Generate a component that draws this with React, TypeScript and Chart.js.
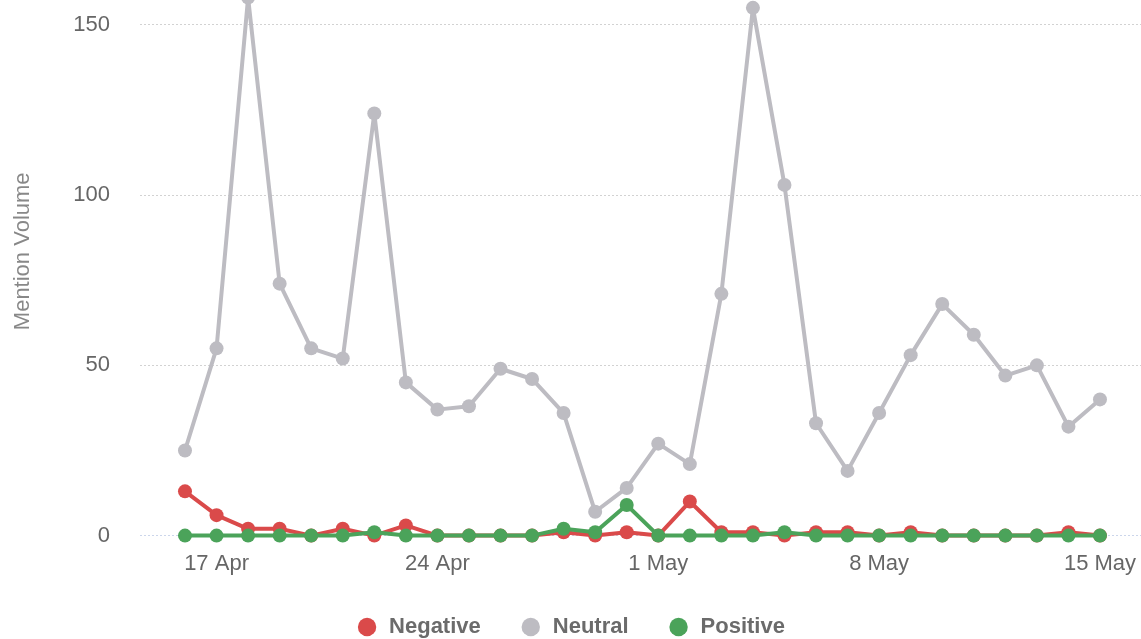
import React, { useEffect, useRef } from "react";
import { Chart, registerables } from "chart.js";

Chart.register(...registerables);

const dateLabels: string[] = [
  "16 Apr", "17 Apr", "18 Apr", "19 Apr", "20 Apr", "21 Apr", "22 Apr", "23 Apr",
  "24 Apr", "25 Apr", "26 Apr", "27 Apr", "28 Apr", "29 Apr", "30 Apr",
  "1 May", "2 May", "3 May", "4 May", "5 May", "6 May", "7 May", "8 May",
  "9 May", "10 May", "11 May", "12 May", "13 May", "14 May", "15 May",
];

const tickLabels: string[] = ["17 Apr", "24 Apr", "1 May", "8 May", "15 May"];

const negative: number[] = [13, 6, 2, 2, 0, 2, 0, 3, 0, 0, 0, 0, 1, 0, 1, 0, 10, 1, 1, 0, 1, 1, 0, 1, 0, 0, 0, 0, 1, 0];
const neutral: number[] = [25, 55, 158, 74, 55, 52, 124, 45, 37, 38, 49, 46, 36, 7, 14, 27, 21, 71, 155, 103, 33, 19, 36, 53, 68, 59, 47, 50, 32, 40];
const positive: number[] = [0, 0, 0, 0, 0, 0, 1, 0, 0, 0, 0, 0, 2, 1, 9, 0, 0, 0, 0, 1, 0, 0, 0, 0, 0, 0, 0, 0, 0, 0];

const RED = "#da4a4a";
const GRAY = "#bdbcc2";
const GREEN = "#4ba35a";

export default function App() {
  const ref = useRef<HTMLCanvasElement>(null);

  useEffect(() => {
    document.body.style.margin = "0";
    const canvas = ref.current;
    if (!canvas) return;
    Chart.defaults.font.family = "'Liberation Sans', Arial, Helvetica, sans-serif";
    const toPts = (arr: number[]) => arr.map((v, i) => ({ x: i, y: v }));
    const common = {
      borderWidth: 4,
      borderJoinStyle: "round" as const,
      borderCapStyle: "round" as const,
      pointRadius: 7,
      pointHoverRadius: 7,
      pointBorderWidth: 0,
      tension: 0,
      fill: false,
      clip: false as any,
    };
    const chart = new Chart(canvas, {
      type: "line",
      data: {
        datasets: [
          { label: "Negative", data: toPts(negative), borderColor: RED, backgroundColor: RED, order: 1, ...common },
          { label: "Neutral", data: toPts(neutral), borderColor: GRAY, backgroundColor: GRAY, order: 2, ...common },
          { label: "Positive", data: toPts(positive), borderColor: GREEN, backgroundColor: GREEN, order: 0, ...common },
        ],
      },
      options: {
        animation: false,
        responsive: false,
        devicePixelRatio: 1,
        layout: { padding: 0, autoPadding: false },
        scales: {
          x: {
            type: "linear",
            min: -1.426,
            max: 30.3,
            grid: { display: false, drawTicks: false },
            border: { display: false },
            afterBuildTicks: (s: any) => {
              s.ticks = tickLabels.map((l) => ({ value: dateLabels.indexOf(l) }));
            },
            ticks: {
              autoSkip: false,
              maxRotation: 0,
              padding: 15,
              color: "#666666",
              font: { size: 22 },
              callback: (v: any) => dateLabels[v as number],
            },
            afterFit: (s: any) => {
              s.height = 41.4;
              s.paddingLeft = 0;
              s.paddingRight = 0;
            },
          },
          y: {
            min: 0,
            max: 167,
            position: "left",
            grid: {
              drawTicks: false,
              lineWidth: 1,
              color: (c: any) => (c.tick && c.tick.value === 0 ? "#ccd6eb" : "#d2d2d2"),
            },
            border: { display: false, dash: [2, 2] },
            ticks: {
              stepSize: 50,
              includeBounds: false,
              padding: 30,
              color: "#666666",
              font: { size: 22 },
            },
            title: {
              display: true,
              text: "Mention Volume",
              color: "#888888",
              font: { size: 22 },
              padding: { top: 10, bottom: 0 },
            },
            afterFit: (s: any) => {
              s.width = 140;
              s.paddingTop = 0;
              s.paddingBottom = 0;
            },
          },
        },
        plugins: {
          tooltip: { enabled: false },
          legend: {
            position: "bottom",
            labels: {
              usePointStyle: true,
              pointStyle: "circle",
              boxWidth: 22,
              boxHeight: 13,
              padding: 39,
              color: "#6b6b6b",
              font: { size: 22, weight: "bold" },
              sort: (a: any, b: any) => a.datasetIndex - b.datasetIndex,
            },
          },
        },
      } as any,
    });
    return () => chart.destroy();
  }, []);

  return (
    <div
      style={{
        position: "fixed",
        left: 0,
        top: 0,
        width: 1141,
        height: 639,
        overflow: "hidden",
        background: "#ffffff",
      }}
    >
      <canvas
        ref={ref}
        width={1141}
        height={681}
        style={{ position: "absolute", left: 0, top: -33, width: 1141, height: 681 }}
      />
    </div>
  );
}
